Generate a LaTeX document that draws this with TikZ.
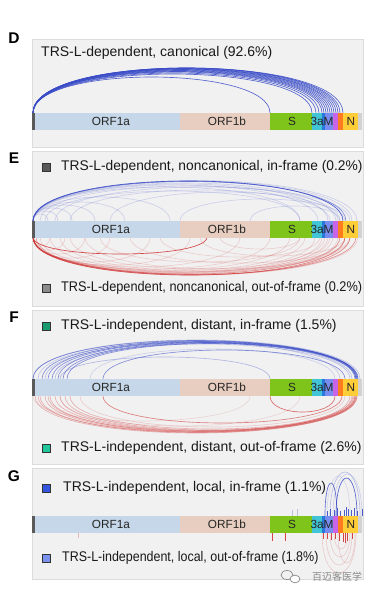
\documentclass[tikz,border=0pt]{standalone}
\usepackage{fontspec}
\setmainfont{Liberation Sans}
\newfontfamily\cjkfont{Noto Sans CJK SC}
\definecolor{boxfill}{HTML}{F1F1F1}
\definecolor{boxline}{HTML}{DCDCDC}
\definecolor{cORFa}{HTML}{C5D7E8}
\definecolor{cORFb}{HTML}{E8CEC0}
\definecolor{cS}{HTML}{7EC41A}
\definecolor{cA}{HTML}{40C4D6}
\definecolor{cEe}{HTML}{2878DC}
\definecolor{cM}{HTML}{788CF0}
\definecolor{cV}{HTML}{C864E6}
\definecolor{cO}{HTML}{FF7D1E}
\definecolor{cN}{HTML}{FFCD37}
\definecolor{cEnd}{HTML}{D2D2D2}
\definecolor{cStart}{HTML}{5A5A5A}
\definecolor{inblue}{HTML}{3A4CC8}
\definecolor{outred}{HTML}{D23232}
\definecolor{sqEa}{HTML}{5A5A5A}
\definecolor{sqEb}{HTML}{8C8C8C}
\definecolor{sqFa}{HTML}{1A9A70}
\definecolor{sqFb}{HTML}{1FC79A}
\definecolor{sqGa}{HTML}{3355E0}
\definecolor{sqGb}{HTML}{7B93EE}
\definecolor{wmark}{HTML}{8A8A8A}
\newcommand\genomebar[2]{%
  \fill[cStart] (32,#2) rectangle (35,#2+17);
  \fill[cORFa] (35,#2) rectangle (180,#2+17);
  \fill[cORFb] (180,#2) rectangle (270,#2+17);
  \fill[cS] (270,#2) rectangle (312,#2+17);
  \fill[cA] (312,#2) rectangle (322,#2+17);
  \fill[cEe] (322,#2) rectangle (325,#2+17);
  \fill[cM] (325,#2) rectangle (333,#2+17);
  \fill[cV] (333,#2) rectangle (338,#2+17);
  \fill[cO] (338,#2) rectangle (343,#2+17);
  \fill[cN] (343,#2) rectangle (358,#2+17);
  \fill[cEnd] (358,#2) rectangle (362,#2+17);
  \node[bartext] (#1a) at (111,#2+8.5) {ORF1a};
  \node[bartext] (#1b) at (227,#2+8.5) {ORF1b};
  \node[bartext] (#1s) at (292,#2+8.5) {S};
  \node[bartext] (#1m) at (322,#2+8.5) {3aM};
  \node[bartext] (#1n) at (351,#2+8.5) {N};
}
\begin{document}
\begin{tikzpicture}[x=1pt,y=-1pt,
  panel/.style={fill=boxfill,draw=boxline,line width=0.8pt},
  bartext/.style={inner sep=0pt,text=black!85,font=\fontsize{11.8}{13}\selectfont},
  letter/.style={inner sep=0pt,font=\fontsize{15.5}{17}\selectfont\bfseries},
  title/.style={inner sep=0pt,anchor=west,text=black!90,font=\fontsize{14}{16}\selectfont},
  sq/.style={draw=black!80,line width=0.6pt,minimum size=8pt,inner sep=0pt},
  inarc/.style={draw=inblue,line width=0.65pt},
  outarc/.style={draw=outred,line width=0.65pt}]
\useasboundingbox (0,0) rectangle (373,595);
\fill[white] (0,0) rectangle (373,595);
% ---------- panels
\draw[panel] (32,39) rectangle (363,147);
\draw[panel] (32,151) rectangle (363,306);
\draw[panel] (32,310) rectangle (363,464);
\draw[panel] (32,468) rectangle (363,579);
\node[letter] (LD) at (14,38) {D};
\node[letter] (LE) at (14,158) {E};
\node[letter] (LF) at (14,317) {F};
\node[letter] (LG) at (14,476) {G};
% ---------- panel D
\node[title] (Dt) at (41,53) {TRS-L-dependent, canonical (92.6\%)};
\foreach \a/\b/\h/\o in {33/270/36/0.85,33/312/39/0.85,33/316/40/0.85,33/319/41/0.85,
  33/322/41.5/0.85,33/324/42/0.85,33/326/42.5/0.85,33/328/43/0.85,33/330/43.5/0.85,
  33/332/44/0.85,33/334/44/0.85,33/336/44.5/0.85,33/338/45/0.85,33/340/45/0.85,33/343/45/0.85}{
  \coordinate (s) at (\a,113); \coordinate (e) at (\b,113);
  \draw[inarc,opacity=\o] (s) .. controls +(0,-1.333*\h) and +(0,-1.333*\h) .. (e);
}
\genomebar{D}{113}
% ---------- panel E
\node[sq,fill=sqEa] (E1s) at (46,167) {};
\node[title] (E1t) at (61,167) {\scalebox{0.985}[1]{TRS-L-dependent, noncanonical, in-frame (0.2\%)}};
\node[sq,fill=sqEb] (E2s) at (46,288) {};
\node[title] (E2t) at (61,288) {\scalebox{0.91}[1]{TRS-L-dependent, noncanonical, out-of-frame (0.2\%)}};
\foreach \a/\b/\h/\o in {33/300/34/0.2,33/318/36/0.2,33/328/37/0.2,33/336/38/0.2,33/352/40/0.2,
  33/357/40.5/0.2,40/340/35/0.2,55/350/34/0.2,33/48/7/0.2,33/58/10/0.2,33/72/13/0.2,33/95/16/0.2,
  33/125/19/0.2,33/170/24/0.2,70/330/31/0.2,110/338/29/0.2,180/345/22/0.2,250/340/15/0.2,
  45/300/30/0.2,33/343/40/0.9,33/346/39.5/0.6}{
  \coordinate (s) at (\a,221); \coordinate (e) at (\b,221);
  \draw[inarc,opacity=\o] (s) .. controls +(0,-1.333*\h) and +(0,-1.333*\h) .. (e);
}
\foreach \a/\b/\h/\o in {33/270/32/0.18,33/290/33/0.18,33/305/34/0.18,33/315/35/0.18,
  33/322/35.5/0.18,33/328/36/0.18,33/333/36.5/0.18,33/338/37/0.18,33/358/38/0.18,40/330/35/0.18,
  50/345/35/0.18,60/340/34/0.18,70/325/32/0.18,85/350/32/0.18,33/50/9/0.18,33/65/13/0.18,
  33/85/17/0.18,33/110/21/0.18,33/150/25/0.18,33/190/28/0.18,33/240/30/0.18,100/300/25/0.18,
  130/350/26/0.18,160/320/20/0.18,200/345/19/0.18,220/300/12/0.18,
  33/207/17/0.9,33/345/38/0.6,33/350/38/0.5,33/356/37.5/0.5,36/340/37/0.4}{
  \coordinate (s) at (\a,237); \coordinate (e) at (\b,237);
  \draw[outarc,opacity=\o] (s) .. controls +(0,1.333*\h) and +(0,1.333*\h) .. (e);
}
\genomebar{E}{221}
% ---------- panel F
\node[sq,fill=sqFa] (F1s) at (46,326) {};
\node[title] (F1t) at (61,326) {TRS-L-independent, distant, in-frame (1.5\%)};
\node[sq,fill=sqFb] (F2s) at (46,448) {};
\node[title] (F2t) at (61,448) {TRS-L-independent, distant, out-of-frame (2.6\%)};
\foreach \a/\b/\h/\o in {33/358/38.5/0.6,42/357/38/0.6,48/357/37.5/0.6,52/356/37/0.6,
  58/358/36.5/0.6,63/356/36/0.6,67/355/35.5/0.6,33/360/39/0.3,45/352/36.5/0.3,55/350/35/0.3,
  103/345/29/0.6,60/270/22/0.35,90/335/30/0.2,38/340/37/0.25}{
  \coordinate (s) at (\a,379); \coordinate (e) at (\b,379);
  \draw[inarc,opacity=\o] (s) .. controls +(0,-1.333*\h) and +(0,-1.333*\h) .. (e);
}
\foreach \a/\b/\h/\o in {35/357/37/0.35,40/356/36.5/0.35,45/357/36/0.35,50/355/35.5/0.35,
  55/356/35/0.35,60/354/34.5/0.35,65/355/34/0.35,70/353/33/0.35,38/352/36/0.35,48/350/35/0.35,
  103/342/27/0.6,270/335/16/0.7,33/250/25/0.15,60/300/30/0.15,80/345/31/0.2}{
  \coordinate (s) at (\a,396); \coordinate (e) at (\b,396);
  \draw[outarc,opacity=\o] (s) .. controls +(0,1.333*\h) and +(0,1.333*\h) .. (e);
}
\genomebar{F}{379}
% ---------- panel G
\node[sq,fill=sqGa] (G1s) at (46,488) {};
\node[title] (G1t) at (63,488) {TRS-L-independent, local, in-frame (1.1\%)};
\node[sq,fill=sqGb] (G2s) at (46,558) {};
\node[title] (G2t) at (62,558) {\scalebox{0.89}[1]{TRS-L-independent, local, out-of-frame (1.8\%)}};
\foreach \a/\b/\h/\o in {325/337/33/0.8,336/357/38/0.85,330/360/44/0.3,333/362/42/0.2,327/350/40/0.15}{
  \coordinate (s) at (\a,516); \coordinate (e) at (\b,516);
  \draw[inarc,opacity=\o] (s) .. controls +(0,-1.333*\h) and +(0,-1.333*\h) .. (e);
}
\foreach \a/\b/\h/\o in {322/356/40/0.2,326/352/32/0.2,330/350/24/0.2,334/348/16/0.2,338/355/30/0.2}{
  \coordinate (s) at (\a,533); \coordinate (e) at (\b,533);
  \draw[outarc,opacity=\o] (s) .. controls +(0,1.333*\h) and +(0,1.333*\h) .. (e);
}
\genomebar{G}{516}
\foreach \x/\l/\o in {292/6/0.3,297/7/0.3,327/5/0.9,330/7/0.9,334/6/0.9,337/8/0.9,340/5/0.9,
  344/6/0.9,346/9/0.9,348/7/0.9,351/6/0.9,354/8/0.9,357/5/0.9,362/7/0.9}{
  \coordinate (t) at (\x,516);
  \draw[inarc,opacity=\o] (t) -- ++(0,-\l);
}
\foreach \x/\l/\o in {78/5/0.3,272/8/0.9,285/8/0.9,323/6/0.9,327/6/0.9,331/7/0.9,335/6/0.9,
  339/8/0.9,343/9/0.9,345/10/0.9,347/8/0.9,352/6/0.9}{
  \coordinate (t) at (\x,533);
  \draw[outarc,opacity=\o] (t) -- ++(0,\l);
}
% ---------- watermark
\draw[wmark,line width=0.7pt] (287,575) ellipse [x radius=6,y radius=4.5];
\draw[wmark,line width=0.7pt,fill=white] (295,579) ellipse [x radius=5,y radius=3.8];
\node[inner sep=0pt,text=wmark,font=\cjkfont\fontsize{10}{12}\selectfont] (wm) at (337,577) {百迈客医学};
\end{tikzpicture}
\end{document}
